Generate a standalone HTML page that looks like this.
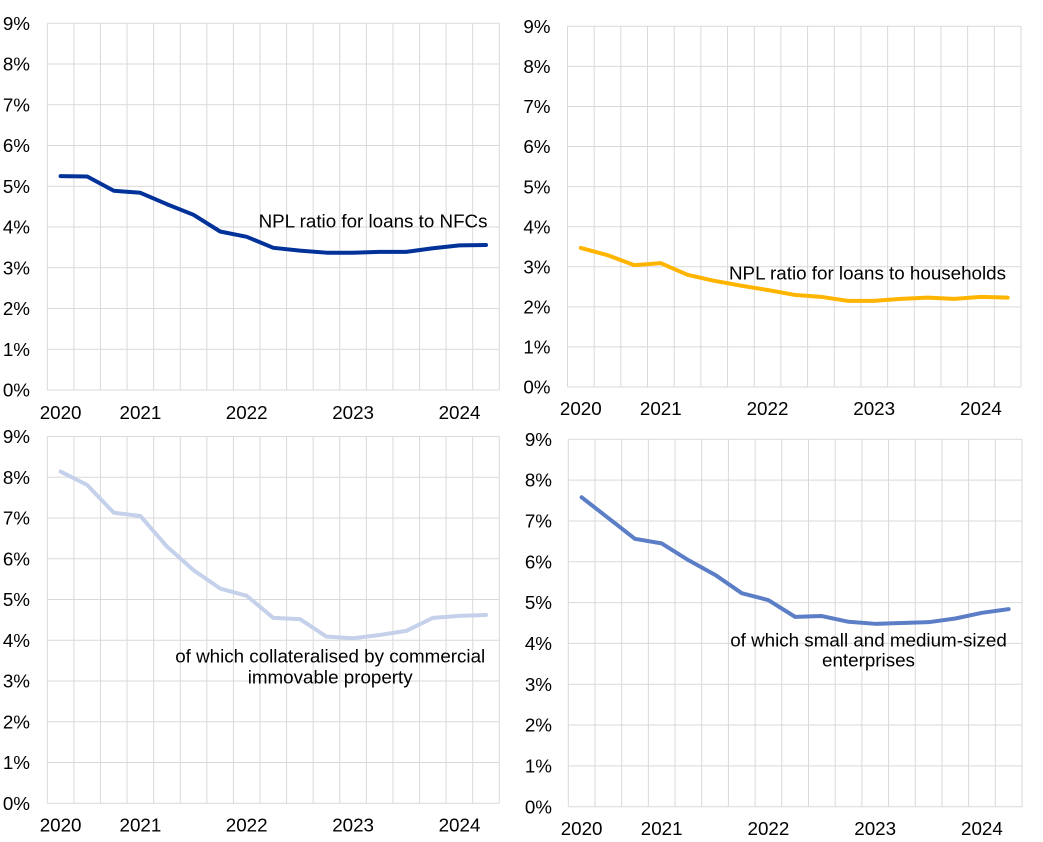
<!DOCTYPE html>
<html><head><meta charset="utf-8"><style>
html,body{margin:0;padding:0;background:#fff;}
svg{display:block;}
text{font-family:"Liberation Sans",Arial,sans-serif;font-size:18.8px;fill:#000;}
.g{stroke:#d9d9d9;stroke-width:1;fill:none;vector-effect:non-scaling-stroke;}
.s{fill:none;stroke-width:4;stroke-linecap:round;stroke-linejoin:round;vector-effect:non-scaling-stroke;}
</style></head><body>
<svg width="1043" height="842" viewBox="0 0 1043 842" xmlns="http://www.w3.org/2000/svg">
<defs>
<g id="grid">
<path class="g" d="M0 0H17M0 1H17M0 2H17M0 3H17M0 4H17M0 5H17M0 6H17M0 7H17M0 8H17M0 9H17
M0 0V9M1 0V9M2 0V9M3 0V9M4 0V9M5 0V9M6 0V9M7 0V9M8 0V9M9 0V9M10 0V9M11 0V9M12 0V9M13 0V9M14 0V9M15 0V9M16 0V9M17 0V9"/>
</g>
</defs>

<!-- Top-left panel -->
<svg x="47.3" y="23.3" width="452" height="366.7" viewBox="0 0 17 9" preserveAspectRatio="none" overflow="visible">
<use href="#grid"/>
<polyline class="s" stroke="#003299" points="0.5,3.75 1.5,3.76 2.5,4.11 3.5,4.16 4.5,4.44 5.5,4.70 6.5,5.11 7.5,5.24 8.5,5.51 9.5,5.58 10.5,5.63 11.5,5.63 12.5,5.61 13.5,5.61 14.5,5.52 15.5,5.45 16.5,5.44"/>
</svg>
<g text-anchor="end">
<text x="30" y="30">9%</text><text x="30" y="70.7">8%</text><text x="30" y="111.4">7%</text><text x="30" y="152.1">6%</text><text x="30" y="192.9">5%</text><text x="30" y="233.6">4%</text><text x="30" y="274.3">3%</text><text x="30" y="315.1">2%</text><text x="30" y="355.8">1%</text><text x="30" y="396.6">0%</text>
</g>
<g text-anchor="middle">
<text x="60.6" y="419">2020</text><text x="140.4" y="419">2021</text><text x="246.7" y="419">2022</text><text x="353.1" y="419">2023</text><text x="459.5" y="419">2024</text>
</g>
<text x="487.5" y="227.3" text-anchor="end">NPL ratio for loans to NFCs</text>

<!-- Top-right panel -->
<svg x="567.5" y="26.3" width="453.5" height="360.7" viewBox="0 0 17 9" preserveAspectRatio="none" overflow="visible">
<use href="#grid"/>
<polyline class="s" stroke="#ffb400" points="0.5,5.53 1.5,5.71 2.5,5.96 3.5,5.91 4.5,6.20 5.5,6.35 6.5,6.47 7.5,6.58 8.5,6.70 9.5,6.75 10.5,6.85 11.5,6.85 12.5,6.80 13.5,6.77 14.5,6.80 15.5,6.75 16.5,6.77"/>
</svg>
<g text-anchor="end">
<text x="550.5" y="33">9%</text><text x="550.5" y="73.1">8%</text><text x="550.5" y="113.2">7%</text><text x="550.5" y="153.2">6%</text><text x="550.5" y="193.3">5%</text><text x="550.5" y="233.4">4%</text><text x="550.5" y="273.5">3%</text><text x="550.5" y="313.5">2%</text><text x="550.5" y="353.6">1%</text><text x="550.5" y="393.7">0%</text>
</g>
<g text-anchor="middle">
<text x="580.8" y="415">2020</text><text x="660.8" y="415">2021</text><text x="767.5" y="415">2022</text><text x="874.2" y="415">2023</text><text x="980.9" y="415">2024</text>
</g>
<text x="1006" y="279.3" text-anchor="end">NPL ratio for loans to households</text>

<!-- Bottom-left panel -->
<svg x="47.3" y="436.5" width="452" height="366.8" viewBox="0 0 17 9" preserveAspectRatio="none" overflow="visible">
<use href="#grid"/>
<polyline class="s" stroke="#c5d1ea" points="0.5,0.86 1.5,1.19 2.5,1.87 3.5,1.95 4.5,2.70 5.5,3.28 6.5,3.73 7.5,3.91 8.5,4.45 9.5,4.48 10.5,4.91 11.5,4.95 12.5,4.87 13.5,4.77 14.5,4.45 15.5,4.40 16.5,4.38"/>
</svg>
<g text-anchor="end">
<text x="30" y="443.1">9%</text><text x="30" y="483.9">8%</text><text x="30" y="524.6">7%</text><text x="30" y="565.4">6%</text><text x="30" y="606.1">5%</text><text x="30" y="646.9">4%</text><text x="30" y="687.7">3%</text><text x="30" y="728.4">2%</text><text x="30" y="769.2">1%</text><text x="30" y="809.9">0%</text>
</g>
<g text-anchor="middle">
<text x="60.6" y="831.7">2020</text><text x="140.4" y="831.7">2021</text><text x="246.7" y="831.7">2022</text><text x="353.1" y="831.7">2023</text><text x="459.5" y="831.7">2024</text>
</g>
<text x="330.2" y="662.7" text-anchor="middle">of which collateralised by commercial</text>
<text x="330.2" y="683.3" text-anchor="middle">immovable property</text>

<!-- Bottom-right panel -->
<svg x="568.3" y="439.3" width="453.7" height="367.4" viewBox="0 0 17 9" preserveAspectRatio="none" overflow="visible">
<use href="#grid"/>
<polyline class="s" stroke="#5b7ec6" points="0.5,1.42 1.5,1.93 2.5,2.44 3.5,2.55 4.5,2.96 5.5,3.32 6.5,3.77 7.5,3.94 8.5,4.35 9.5,4.33 10.5,4.47 11.5,4.52 12.5,4.50 13.5,4.48 14.5,4.39 15.5,4.25 16.5,4.16"/>
</svg>
<g text-anchor="end">
<text x="552" y="445.9">9%</text><text x="552" y="486.7">8%</text><text x="552" y="527.5">7%</text><text x="552" y="568.3">6%</text><text x="552" y="609.2">5%</text><text x="552" y="650">4%</text><text x="552" y="690.8">3%</text><text x="552" y="731.6">2%</text><text x="552" y="772.5">1%</text><text x="552" y="813.3">0%</text>
</g>
<g text-anchor="middle">
<text x="581.6" y="835">2020</text><text x="661.7" y="835">2021</text><text x="768.4" y="835">2022</text><text x="875.2" y="835">2023</text><text x="981.9" y="835">2024</text>
</g>
<text x="868.5" y="646.7" text-anchor="middle">of which small and medium-sized</text>
<text x="868.5" y="666.7" text-anchor="middle">enterprises</text>
</svg>
</body></html>
